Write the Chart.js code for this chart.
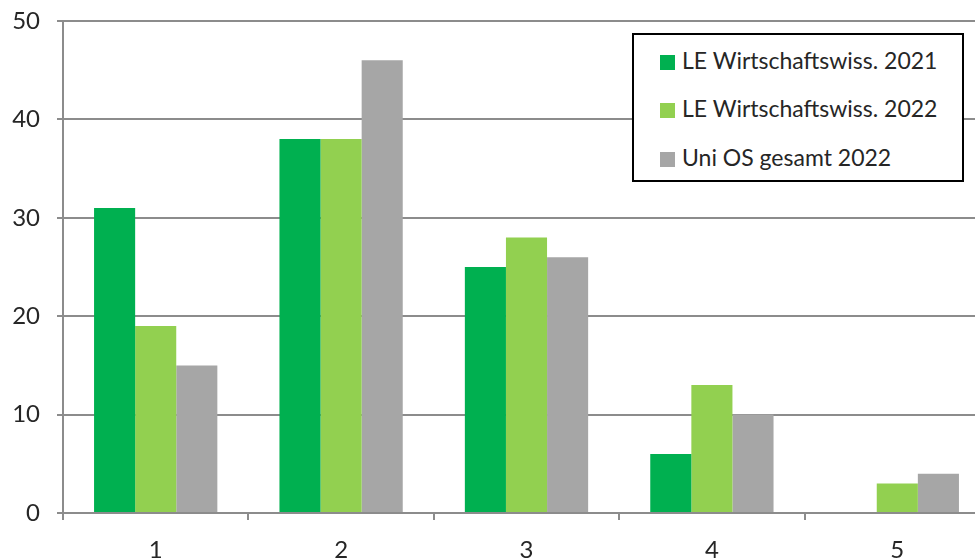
<!DOCTYPE html>
<html lang="de">
<head>
<meta charset="UTF-8">
<title>Noten</title>
<script src="https://cdn.jsdelivr.net/npm/chart.js@4"></script>
<style>
    html, body { margin: 0; padding: 0; overflow: hidden; background: #fff; }
    .wrap { position: relative; width: 995px; height: 560px; }
    #legende {
        position: absolute; left: 632px; top: 33px; width: 328px; height: 145px;
        border: 2px solid #000; background: #fff;
        font-family: Lato, sans-serif; font-size: 23px; color: #262626;
    }
    #legende .item { position: absolute; left: 26px; height: 24px; line-height: 24px; white-space: nowrap; }
    #legende .box { display: inline-block; width: 15px; height: 15px; margin-right: 7px; vertical-align: -1px; }
</style>
</head>
<body>
<div class="wrap">
    <canvas id="grafico"></canvas>
    <div id="legende"></div>
</div>

<script>
// Werte
const kategorien = ['1', '2', '3', '4', '5'];
const serienNamen = ['LE Wirtschaftswiss. 2021', 'LE Wirtschaftswiss. 2022', 'Uni OS gesamt 2022'];
const le2021 = [31, 38, 25, 6, 0];
const le2022 = [19, 38, 28, 13, 3];
const uniGesamt = [15, 46, 26, 10, 4];
const yTicks = [0, 10, 20, 30, 40, 50];

const farben = ['#00B050', '#92D050', '#A6A6A6'];
const grau = '#8C8C8C';
const schrift = { family: 'Lato, sans-serif', size: 24 };

const ctx = document.getElementById('grafico').getContext('2d');
const chart = new Chart(ctx, {
    type: 'bar',
    data: {
        labels: kategorien,
        datasets: [le2021, le2022, uniGesamt].map(function (werte, i) {
            return {
                label: serienNamen[i],
                data: werte,
                backgroundColor: farben[i],
                borderWidth: 0,
                categoryPercentage: 0.665,
                barPercentage: 1
            };
        })
    },
    options: {
        responsive: true,
        maintainAspectRatio: false,
        animation: false,
        layout: { padding: { top: 21, right: 5, left: 0, bottom: 0 } },
        plugins: {
            legend: { display: false },
            tooltip: { enabled: false }
        },
        scales: {
            x: {
                grid: { display: true, drawOnChartArea: false, drawTicks: true, tickLength: 7, color: grau, lineWidth: 2, offset: true },
                border: { color: grau, width: 2 },
                ticks: { color: '#262626', font: schrift, padding: 16 },
                afterFit: function (scale) { scale.height = 47; scale.paddingLeft = 0; scale.paddingRight = 0; }
            },
            y: {
                min: 0,
                max: 50,
                afterBuildTicks: function (scale) { scale.ticks = yTicks.map(v => ({ value: v })); },
                grid: { color: grau, lineWidth: 2, tickLength: 6 },
                border: { color: grau, width: 2 },
                ticks: { color: '#262626', font: schrift, padding: 17 },
                afterFit: function (scale) { scale.width = 63; scale.paddingTop = 0; scale.paddingBottom = 0; }
            }
        }
    }
});

// Legende aus den Datensätzen erzeugen
const legende = document.getElementById('legende');
chart.data.datasets.forEach(function (ds, i) {
    const item = document.createElement('div');
    item.className = 'item';
    item.style.top = (12.5 + i * 48.75) + 'px';
    item.innerHTML = '<span class="box" style="background:' + ds.backgroundColor + '"></span>' + ds.label;
    legende.appendChild(item);
});
</script>
</body>
</html>
